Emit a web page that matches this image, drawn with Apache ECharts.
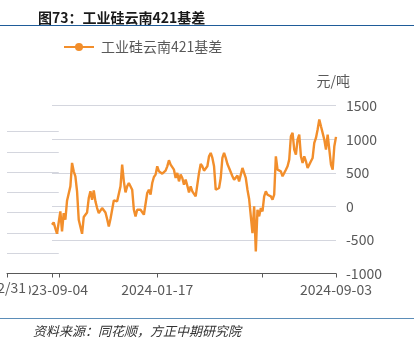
<!DOCTYPE html>
<html>
<head>
<meta charset="utf-8">
<script src="https://cdn.jsdelivr.net/npm/echarts@6/dist/echarts.min.js"></script>
<style>
html,body{margin:0;padding:0;background:#fff;}
#c{width:414px;height:338px;}
</style>
</head>
<body>
<div id="c"></div>
<script>
// ---- data ----
const title = '图73：工业硅云南421基差';
const seriesName = '工业硅云南421基差';
const unit = '元/吨';
const source = '资料来源：同花顺，方正中期研究院';
const xTickLabels = ['2023-09-04', '2024-01-17', '2024-09-03'];
const xTickLabelIndex = [0, 63, 170];
const xTickStep = 63;
const yMin = -1000, yMax = 1500, yStep = 500;
const basis = [
  -273,-239,-328,-408,-423,-75,-373,-99,-199,85,110,298,647,522,448,224,-199,-224,-408,-159,
  -124,-90,124,224,100,239,75,-25,-99,-90,-25,-25,-90,-189,-298,-189,-50,90,110,75,
  100,298,622,373,209,298,348,323,249,-50,-149,-50,-75,
  -50,-60,-124,-99,199,249,174,348,438,473,597,522,532,487,458,532,597,687,622,632,
  547,423,498,373,473,423,323,398,308,209,298,224,249,149,149,498,632,597,532,522,
  597,746,796,722,597,249,274,274,423,722,796,722,632,572,
  597,448,398,413,458,373,398,572,547,423,249,110,110,-398,0,-672,-50,-149,-25,-75,
  149,224,174,199,149,100,174,746,547,547,522,448,448,547,597,697,1045,1095,846,771,
  995,1070,746,647,746,672,572,622,672,722,945,1020,1145,1294,1194,1170,995,846,1070,846,
  622,547,896,1035
];
const categories = basis.map((_, i) => i);
// left neighbouring panel remnant (cropped off at the image edge)
const leftPanelLabel = '2023/12/31';

const chart = echarts.init(document.getElementById('c'), null, {renderer: 'canvas'});
const font = '"Noto Sans CJK SC", "Noto Sans", sans-serif';
const gray = '#595959';
const gridColor = '#d4d6de';
const N = basis.length;

chart.setOption({
  animation: false,
  backgroundColor: '#fff',
  textStyle: {fontFamily: font},
  title: {
    text: title, left: 33, top: 6,
    textStyle: {fontSize: 14, fontWeight: 'bold', color: '#1a1a1a', fontFamily: font}
  },
  legend: {
    left: 58, top: 35, itemWidth: 30, itemHeight: 10, itemGap: 10,
    textStyle: {fontSize: 14, color: gray, fontFamily: font, padding: [0,0,0,2]},
    data: [seriesName]
  },
  grid: [
    {left: 52, right: 78, top: 105.7, bottom: 64.5, containLabel: false},
    {left: -200, right: 407, top: 131.7, bottom: 64.5, containLabel: false}
  ],
  xAxis: [
    {
      type: 'category', gridIndex: 0, data: categories, boundaryGap: false,
      axisLine: {onZero: false, lineStyle: {color: gray, width: 1}},
      axisTick: {show: true, length: 4, lineStyle: {color: gray},
        interval: (i) => i % xTickStep === 0 || i === N - 1},
      axisLabel: {
        interval: (i) => xTickLabelIndex.indexOf(i) >= 0,
        formatter: (v, i) => { const k = xTickLabelIndex.indexOf(i); return k >= 0 ? xTickLabels[k] : ''; },
        fontSize: 14, color: gray, margin: 9, fontFamily: font, showMaxLabel: true, showMinLabel: true
      },
      splitLine: {show: false}
    },
    {
      type: 'value', gridIndex: 1, min: 0, max: 1, interval: 1,
      axisLine: {onZero: false, lineStyle: {color: gray}},
      axisTick: {show: true, length: 4, lineStyle: {color: gray}},
      axisLabel: {show: false}, splitLine: {show: false}
    }
  ],
  yAxis: [
    {
      type: 'value', gridIndex: 0, position: 'right', min: yMin, max: yMax, interval: yStep,
      name: unit, nameLocation: 'end', nameGap: 18,
      nameTextStyle: {fontSize: 14, color: gray, align: 'right', padding: [0, -14, 0, 0], fontFamily: font},
      axisLine: {show: false}, axisTick: {show: false},
      axisLabel: {fontSize: 14, color: gray, margin: 10, align: 'left', fontFamily: font,
        formatter: (v) => String(v)},
      splitLine: {show: true, lineStyle: {color: gridColor, width: 1}}
    },
    {
      type: 'value', gridIndex: 1, min: 0, max: 7, interval: 1,
      axisLine: {show: false}, axisTick: {show: false}, axisLabel: {show: false},
      splitLine: {show: true, lineStyle: {color: gridColor, width: 1}}
    }
  ],
  series: [
    {
      name: seriesName, type: 'line', xAxisIndex: 0, yAxisIndex: 0, data: basis,
      symbol: 'circle', symbolSize: 10, showSymbol: false,
      itemStyle: {color: '#f28e2b'},
      lineStyle: {color: '#f28e2b', width: 2.4},
      emphasis: {disabled: true}
    }
  ],
  graphic: [
    {type: 'rect', left: 0, top: 281, shape: {width: 29, height: 16}, style: {fill: '#fff'}, z: 100},
    {type: 'text', right: 388, top: 281, style: {text: leftPanelLabel, fill: gray, font: '14px ' + font}, z: 101},
    {type: 'line', shape: {x1: 0, y1: 318.5, x2: 414, y2: 318.5}, style: {stroke: '#5b8db8', lineWidth: 1}, z: 100},
    {type: 'line', shape: {x1: 0, y1: 25.5, x2: 414, y2: 25.5}, style: {stroke: '#1f5c99', lineWidth: 1.2}, z: 100},
    {type: 'text', left: 33, top: 325, style: {text: source, fill: '#333', font: 'italic 13px ' + font}, z: 100}
  ]
});
</script>
</body>
</html>
